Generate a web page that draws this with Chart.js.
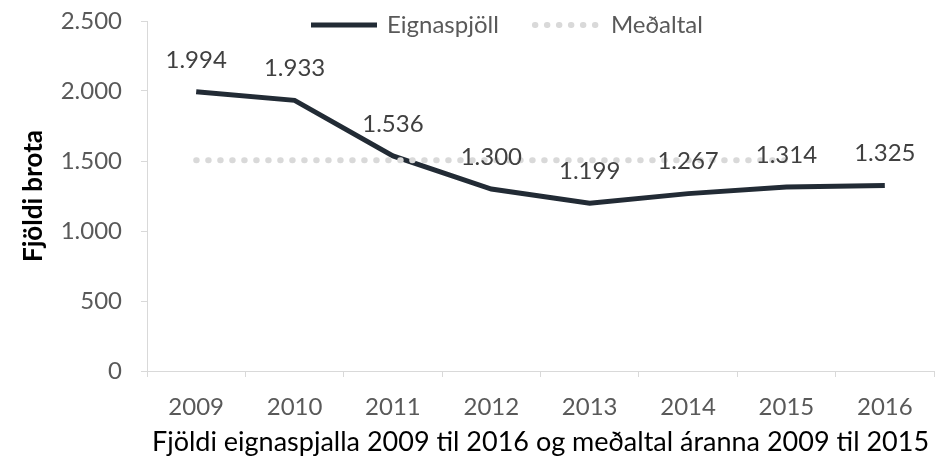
<!DOCTYPE html>
<html>
<head>
<meta charset="utf-8">
<script src="https://cdn.jsdelivr.net/npm/chart.js@4/dist/chart.umd.min.js"></script>
<style>
    body { margin: 0; background: #fff; }
    #wrap { width: 939px; height: 463px; }
</style>
</head>
<body>
<div id="wrap"><canvas id="lineChart" width="939" height="463"></canvas></div>
<script>
    const years = ['2009', '2010', '2011', '2012', '2013', '2014', '2015', '2016'];
    const eignaspjoll = [1994, 1933, 1536, 1300, 1199, 1267, 1314, 1325];
    // average of 2009-2015, no value for 2016
    const medaltal = [1506, 1506, 1506, 1506, 1506, 1506, 1506, null];
    const yTicks = [0, 500, 1000, 1500, 2000, 2500];

    const FONT = 'Lato, "Open Sans", sans-serif';
    const fmt = v => String(v).replace(/\B(?=(\d{3})+(?!\d))/g, '.');

    // ---------------- Helper: value labels ----------------
    const valueLabels = {
        id: 'valueLabels',
        afterDatasetsDraw(chart) {
            const ctx = chart.ctx;
            const meta = chart.getDatasetMeta(0);
            ctx.save();
            ctx.font = '24px ' + FONT;
            ctx.fillStyle = '#404040';
            ctx.textAlign = 'center';
            ctx.textBaseline = 'middle';
            meta.data.forEach((pt, i) => {
                ctx.fillText(fmt(eignaspjoll[i]), pt.x, pt.y - 32);
            });
            ctx.restore();
        }
    };

    // ---------------- Helper: legend inside the plot top ----------------
    const topLegend = {
        id: 'topLegend',
        afterDraw(chart) {
            const ctx = chart.ctx;
            const y = 25;
            let x = 311;
            ctx.save();
            ctx.font = '24px ' + FONT;
            ctx.textBaseline = 'middle';
            chart.data.datasets.forEach(ds => {
                ctx.beginPath();
                ctx.strokeStyle = ds.borderColor;
                ctx.lineWidth = ds.borderWidth;
                ctx.lineCap = ds.borderCapStyle || 'butt';
                ctx.setLineDash(ds.borderDash || []);
                ctx.moveTo(x, y);
                ctx.lineTo(x + 66, y);
                ctx.stroke();
                ctx.fillStyle = '#595959';
                ctx.fillText(ds.label, x + 76, y);
                x += 76 + ctx.measureText(ds.label).width + 36;
            });
            ctx.restore();
        }
    };

    new Chart(document.getElementById('lineChart').getContext('2d'), {
        type: 'line',
        data: {
            labels: years,
            datasets: [{
                label: 'Eignaspjöll',
                data: eignaspjoll,
                borderColor: '#222b35',
                backgroundColor: '#222b35',
                borderWidth: 5,
                pointRadius: 0,
                tension: 0,
                order: 1
            }, {
                label: 'Meðaltal',
                data: medaltal,
                borderColor: '#d9d9d9',
                backgroundColor: '#d9d9d9',
                borderWidth: 6,
                borderDash: [0.5, 11.5],
                borderCapStyle: 'round',
                pointRadius: 0,
                spanGaps: false,
                order: 0
            }]
        },
        options: {
            responsive: false,
            animation: false,
            layout: { padding: { top: 21, right: 5, left: 0, bottom: 0 } },
            plugins: {
                legend: { display: false },
                tooltip: { enabled: false }
            },
            scales: {
                x: {
                    offset: true,
                    grid: { offset: true, drawOnChartArea: false, tickLength: 6, color: '#d9d9d9' },
                    border: { color: '#d9d9d9' },
                    ticks: { color: '#595959', padding: 16, font: { family: FONT, size: 24 } },
                    title: {
                        display: true,
                        text: 'Fjöldi eignaspjalla 2009 til 2016 og meðaltal áranna 2009 til 2015',
                        color: '#000',
                        font: { family: FONT, size: 27 },
                        padding: { top: 0, bottom: 5 }
                    },
                    afterFit: s => { s.height = 92; }
                },
                y: {
                    min: yTicks[0],
                    max: yTicks[yTicks.length - 1],
                    afterBuildTicks: s => { s.ticks = yTicks.map(v => ({ value: v })); },
                    grid: { drawOnChartArea: false, tickLength: 6, color: '#d9d9d9' },
                    border: { color: '#d9d9d9' },
                    ticks: {
                        color: '#595959',
                        padding: 19,
                        font: { family: FONT, size: 24 },
                        callback: v => fmt(v)
                    },
                    title: {
                        display: true,
                        text: 'Fjöldi brota',
                        color: '#000',
                        font: { family: FONT, size: 26, weight: 'bold' },
                        padding: { top: 18, bottom: 0 }
                    },
                    afterFit: s => {
                        s.width = 147;
                        // tick padding should not push the plot down
                        s.paddingTop = 0;
                        s.paddingBottom = 0;
                    }
                }
            }
        },
        plugins: [valueLabels, topLegend]
    });
</script>
</body>
</html>
